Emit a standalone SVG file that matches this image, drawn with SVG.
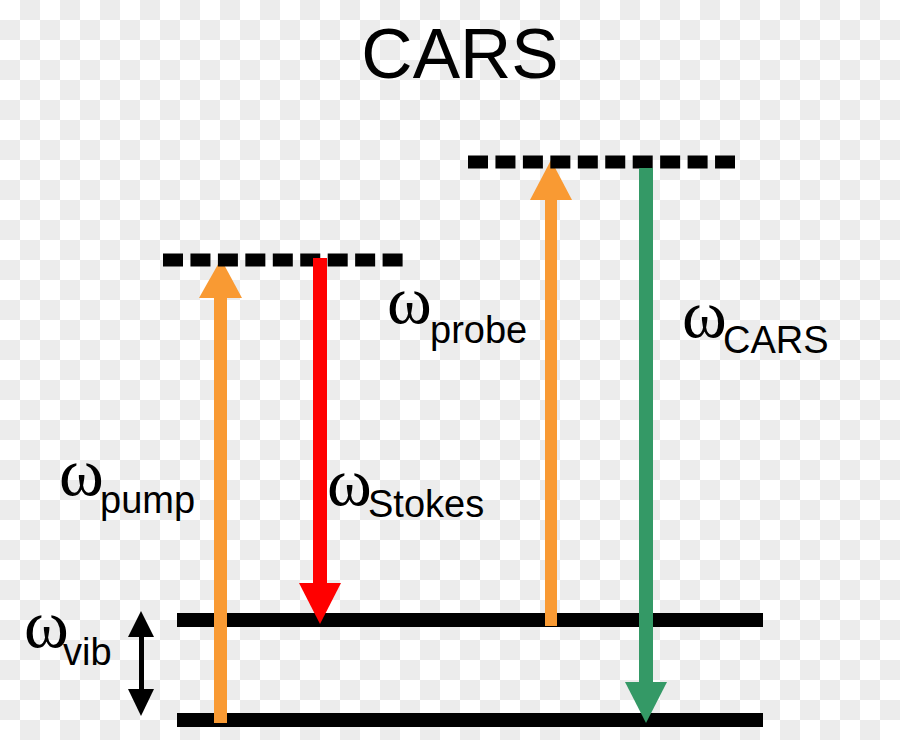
<svg xmlns="http://www.w3.org/2000/svg" width="900" height="740" viewBox="0 0 900 740">
  <defs>
    <pattern id="checker" x="0" y="0" width="40" height="40" patternUnits="userSpaceOnUse">
      <rect width="40" height="40" fill="#ffffff"/>
      <path d="M20 0h20v20h-20z M0 20h20v20h-20z" fill="#ececec"/>
    </pattern>
  </defs>
  <style>
    .level { stroke: #000; stroke-width: 14; fill: none; }
    .virtual { stroke: #000; stroke-width: 13; fill: none; stroke-dasharray: 20 7.45; }
    .orange { fill: #f99a33; }
    .red { fill: #ff0000; }
    .green { fill: #349966; }
    .omega { font-family: "Liberation Serif", "Times New Roman", serif; font-size: 68px; fill: #000; }
    .sub { font-family: "Liberation Sans", Arial, sans-serif; font-size: 38px; fill: #000; }
    .title { font-family: "Liberation Sans", Arial, sans-serif; font-size: 71px; fill: #000; }
  </style>
  <rect x="0" y="0" width="900" height="740" style="fill:url(#checker)"/>

  <text class="title" x="460" y="78" text-anchor="middle">CARS</text>

  <g id="ground-state">
    <line class="level" x1="177" y1="720" x2="763" y2="720"/>
  </g>
  <g id="vibrational-state">
    <line class="level" x1="177" y1="620" x2="763" y2="620"/>
  </g>

  <g id="connectors">
    <g id="pump-arrow">
      <rect class="orange" x="214" y="296" width="13" height="427"/>
      <polygon class="orange" points="199,298 242,298 221,259"/>
    </g>
    <g id="probe-arrow">
      <rect class="orange" x="545" y="198" width="12" height="428"/>
      <polygon class="orange" points="530,200 572,200 551,160"/>
    </g>
  </g>

  <g id="virtual-state-1">
    <line class="virtual" x1="163" y1="260" x2="403" y2="260"/>
  </g>
  <g id="virtual-state-2">
    <line class="virtual" x1="468" y1="162" x2="735" y2="162"/>
  </g>

  <g id="connectors-2">
    <g id="stokes-arrow">
      <rect class="red" x="313" y="258" width="14" height="327"/>
      <polygon class="red" points="299,583 341,583 320,624"/>
    </g>
    <g id="cars-arrow">
      <rect class="green" x="639" y="168" width="14" height="516"/>
      <polygon class="green" points="625,682 667,682 646,723"/>
    </g>
    <g id="vib-arrow">
      <rect x="139" y="633" width="5" height="60" fill="#000"/>
      <polygon points="128,637 154,637 141,611" fill="#000"/>
      <polygon points="128,689 154,689 141,716" fill="#000"/>
    </g>
  </g>

  <g id="label-pump">
    <text class="omega" x="59" y="495">ω</text>
    <text class="sub" x="100" y="513">pump</text>
  </g>
  <g id="label-stokes">
    <text class="omega" x="327" y="505">ω</text>
    <text class="sub" x="368" y="517">Stokes</text>
  </g>
  <g id="label-probe">
    <text class="omega" x="387" y="323">ω</text>
    <text class="sub" x="430" y="343">probe</text>
  </g>
  <g id="label-cars">
    <text class="omega" x="682" y="337">ω</text>
    <text class="sub" x="723" y="353">CARS</text>
  </g>
  <g id="label-vib">
    <text class="omega" x="24" y="647">ω</text>
    <text class="sub" x="63" y="665">vib</text>
  </g>
</svg>
